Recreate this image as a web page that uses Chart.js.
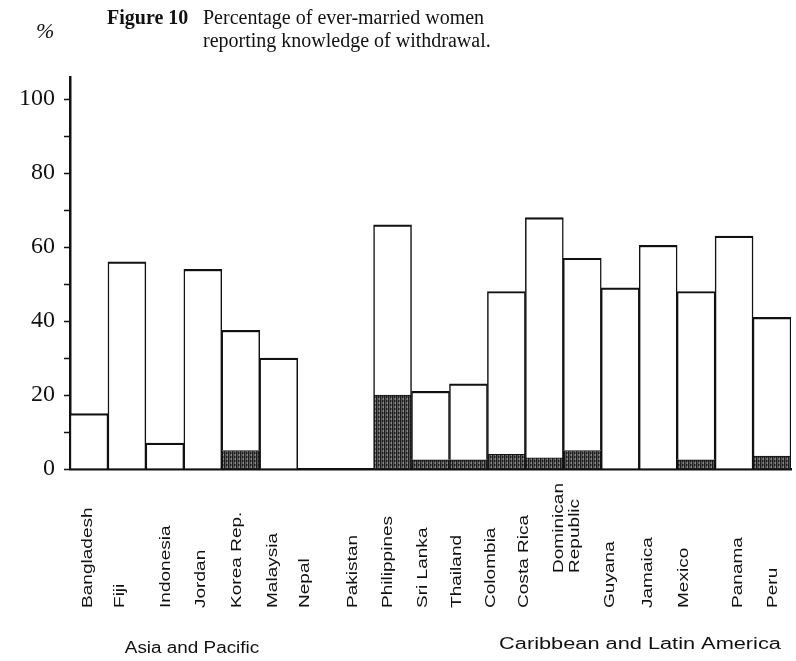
<!DOCTYPE html>
<html>
<head>
<meta charset="utf-8">
<script src="https://cdn.jsdelivr.net/npm/chart.js@4.4.0/dist/chart.umd.min.js"></script>
<style>
  html, body { margin: 0; padding: 0; background: #fff; }
  #wrap { position: relative; width: 796px; height: 661px; }
</style>
</head>
<body>
<div id="wrap"><canvas id="fig10" width="796" height="661"></canvas></div>
<script>
// data
var countries = ['Bangladesh', 'Fiji', 'Indonesia', 'Jordan', 'Korea Rep.', 'Malaysia', 'Nepal',
    'Pakistan', 'Philippines', 'Sri Lanka', 'Thailand', 'Colombia', 'Costa Rica',
    'Dominican\nRepublic', 'Guyana', 'Jamaica', 'Mexico', 'Panama', 'Peru'];
var regions = ['Asia and Pacific', 'Caribbean and Latin America'];
var knowledgePct = [15, 56, 7, 54, 37.5, 30, 0, 0, 66, 21, 23, 48, 68, 57, 49, 60.5, 48, 63, 41];
var darkPct = [0, 0, 0, 0, 5, 0, 0, 0, 20, 2.5, 2.5, 4, 3, 5, 0, 0, 2.5, 0, 3.5];
var yTicks = [0, 10, 20, 30, 40, 50, 60, 70, 80, 90, 100];
var yLabelled = [0, 20, 40, 60, 80, 100];

// label placement tweaks (the typed labels don't sit exactly under the bars)
var labelDx = [-1, -7, 1, -2, -4, -6, -12, -2, -5, -8, -12, -16, -20, -15, -10, -10, -12, 4, 1];
var labelBottom = [608, 608, 608, 608, 608, 608, 608, 608, 608, 608, 608, 608, 608, 573, 608, 608, 608, 608, 608];

var canvas = document.getElementById('fig10');
var ctx = canvas.getContext('2d');

// dark shaded part of the bars
function makeHatch() {
    var c = document.createElement('canvas');
    c.width = 4; c.height = 4;
    var g = c.getContext('2d');
    g.fillStyle = '#555';
    g.fillRect(0, 0, 4, 4);
    g.fillStyle = '#1c1c1c';
    g.fillRect(0, 0, 1, 4);
    g.fillRect(2, 0, 1, 2);
    g.fillStyle = '#888';
    g.fillRect(3, 2, 1, 2);
    return ctx.createPattern(c, 'repeat');
}

var upperPct = knowledgePct.map(function (v, i) { return v - darkPct[i]; });

var serif = '"Liberation Serif", "Times New Roman", serif';
var sans = '"Liberation Sans", Arial, sans-serif';

var decor = {
    id: 'decor',
    afterDraw: function (chart) {
        var c = chart.ctx;
        var xs = chart.scales.x;
        c.save();
        c.fillStyle = '#111';

        // heading
        c.textAlign = 'left';
        c.textBaseline = 'alphabetic';
        c.font = 'italic 22px ' + serif;
        c.fillText('%', 36, 38);
        c.font = 'bold 20px ' + serif;
        c.fillText('Figure 10', 107, 24);
        c.font = '20px ' + serif;
        c.fillText('Percentage of ever-married women', 203, 24);
        c.fillText('reporting knowledge of withdrawal.', 203, 47);

        // country names, vertical
        c.font = '15px ' + sans;
        c.textBaseline = 'middle';
        countries.forEach(function (name, i) {
            var lines = name.split('\n');
            var x = xs.getPixelForValue(i) + labelDx[i];
            lines.forEach(function (ln, j) {
                c.save();
                c.translate(x + (j - (lines.length - 1) / 2) * 16, labelBottom[i]);
                c.rotate(-Math.PI / 2);
                c.scale(1.27, 1);
                c.fillText(ln, 0, 0);
                c.restore();
            });
        });

        // region names
        c.font = '16px ' + sans;
        c.textAlign = 'center';
        c.textBaseline = 'alphabetic';
        [[regions[0], 192, 653, 1.18], [regions[1], 640, 649, 1.36]].forEach(function (r) {
            c.save();
            c.translate(r[1], r[2]);
            c.scale(r[3], 1);
            c.fillText(r[0], 0, 0);
            c.restore();
        });
        c.restore();
    }
};

var chart = new Chart(ctx, {
    type: 'bar',
    data: {
        labels: countries,
        datasets: [{
            label: 'shaded',
            data: darkPct,
            backgroundColor: makeHatch(),
            borderColor: '#111',
            borderWidth: { top: 1, left: 1.5, right: 1.5, bottom: 0 },
            borderSkipped: 'start',
            barPercentage: 1,
            categoryPercentage: 1
        }, {
            label: 'knowledge',
            data: upperPct,
            backgroundColor: '#fff',
            borderColor: '#111',
            borderWidth: { top: 2.2, left: 1.5, right: 1.5, bottom: 0 },
            borderSkipped: 'start',
            barPercentage: 1,
            categoryPercentage: 1
        }]
    },
    options: {
        responsive: false,
        animation: false,
        layout: { padding: { top: 77, right: 5, left: 0, bottom: 0 } },
        plugins: {
            legend: { display: false },
            tooltip: { enabled: false },
            title: { display: false }
        },
        scales: {
            x: {
                stacked: true,
                grid: { display: false },
                border: { display: true, color: '#111', width: 2.5 },
                ticks: { display: false },
                afterFit: function (s) { s.height = 192; }
            },
            y: {
                stacked: true,
                min: 0,
                max: 106,
                border: { display: true, color: '#111', width: 2.5 },
                grid: {
                    display: true,
                    drawOnChartArea: false,
                    drawTicks: true,
                    tickLength: 6,
                    tickColor: '#111',
                    tickWidth: 1.5
                },
                afterBuildTicks: function (s) {
                    s.ticks = yTicks.map(function (v) { return { value: v }; });
                },
                ticks: {
                    padding: 9,
                    color: '#111',
                    font: { family: serif, size: 24 },
                    callback: function (v) { return yLabelled.indexOf(v) >= 0 ? String(v) : ''; }
                },
                afterFit: function (s) { s.width = 70; }
            }
        }
    },
    plugins: [decor]
});
</script>
</body>
</html>
